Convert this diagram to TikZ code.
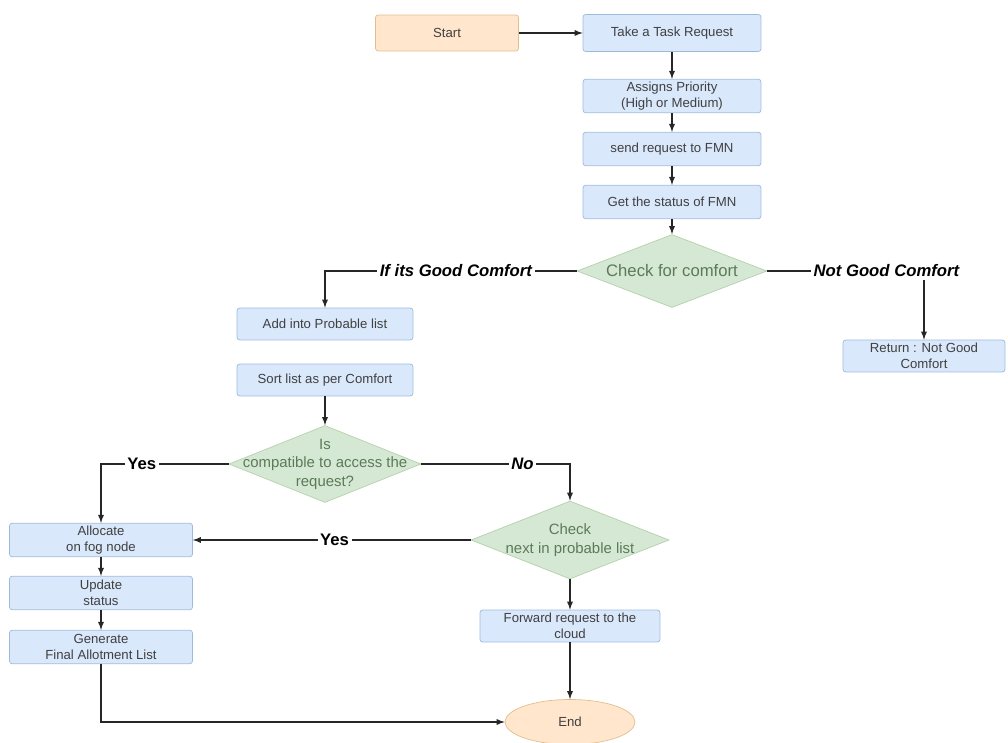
\documentclass[tikz,border=0pt]{standalone}
\usepackage{fontspec}
\setmainfont{Liberation Sans}
\usetikzlibrary{arrows,shapes.geometric,positioning}

\definecolor{boxfill}{HTML}{DAE8FC}
\definecolor{boxline}{HTML}{9FB9DD}
\definecolor{termfill}{HTML}{FFE6CC}
\definecolor{termline}{HTML}{E3BE8C}
\definecolor{decfill}{HTML}{D5E8D4}
\definecolor{decline}{HTML}{B3D1AA}
\definecolor{dectext}{HTML}{5C7A58}

\begin{document}
\begin{tikzpicture}
[x=0.02cm,y=-0.02cm,
%
process/.style={shape=rectangle,rounded corners=1.5pt,draw=boxline,fill=boxfill,
  minimum width=3.56cm,minimum height=0.67cm,inner sep=1pt,align=center,
  text=black!75,font=\fontsize{7.5}{9}\selectfont},
terminal/.style={process,draw=termline,fill=termfill},
decision/.style={shape=diamond,draw=decline,fill=decfill,inner sep=0pt},
dtext/.style={align=center,text=dectext,font=\fontsize{8.5}{10.5}\selectfont},
%
edge/.style={draw,black!85,semithick,>=latex},
elabel/.style={fill=white,inner sep=1.5pt,text=black,font=\fontsize{9.5}{11}\selectfont\bfseries\itshape}]
%
\useasboundingbox (0,0) rectangle (1008,743);
%
%% main column
\node (start) [terminal,minimum width=2.86cm,minimum height=0.72cm] at (447,33) {Start};
\node (task) [process,minimum height=0.74cm] at (672,33) {Take a Task Request};
\node (prio) [process] at (672,96) {Assigns Priority\\(High or Medium)};
\node (send) [process] at (672,149) {send request to FMN};
\node (stat) [process] at (672,202) {Get the status of FMN};
\node (check) [decision,minimum width=3.8cm,minimum height=1.46cm,
  label={[dtext,font=\fontsize{9.5}{11}\selectfont]center:Check for comfort}] at (672,271) {};
%
%% comfort branches
\node (ret) [process,minimum width=3.24cm,minimum height=0.64cm] at (924,356) {Return : Not Good\\Comfort};
\node (add) [process,minimum width=3.52cm,minimum height=0.64cm] at (325,324) {Add into Probable list};
\node (sort) [process,minimum width=3.52cm,minimum height=0.64cm] at (325,380) {Sort list as per Comfort};
\node (comp) [decision,minimum width=3.84cm,minimum height=1.54cm,
  label={[dtext]center:Is\\compatible to access the\\request?}] at (325,464) {};
%
%% allocation column
\node (alloc) [process,minimum width=3.66cm] at (101,540) {Allocate\\on fog node};
\node (upd) [process,minimum width=3.66cm] at (101,593) {Update\\status};
\node (gen) [process,minimum width=3.66cm] at (101,647) {Generate\\Final Allotment List};
%
%% next candidate
\node (next) [decision,minimum width=3.96cm,minimum height=1.56cm,
  label={[dtext]center:Check\\next in probable list}] at (570,540) {};
\node (fwd) [process,minimum width=3.6cm,minimum height=0.64cm] at (570,626) {Forward request to the\\cloud};
\node (end) [terminal,shape=ellipse,minimum width=2.6cm,minimum height=0.9cm] at (570,722) {End};
%
%% edges
\draw[edge,->] (start) -- (task);
\draw[edge,->] (task) -- (prio);
\draw[edge,->] (prio) -- (send);
\draw[edge,->] (send) -- (stat);
\draw[edge,->] (stat) -- (check);
\draw[edge,->] (check.west) -| (add.north) node[elabel,pos=0.24] {If its Good Comfort};
\draw[edge,->] (check.east) -| (ret.north) node[elabel,pos=0.38] {Not Good Comfort};
\draw[edge,->] (sort) -- (comp);
\draw[edge,->] (comp.west) -| (alloc.north) node[elabel,pos=0.34,font=\fontsize{9.5}{11}\selectfont\bfseries] {Yes};
\draw[edge,->] (comp.east) -| (next.north) node[elabel,pos=0.34] {No};
\draw[edge,->] (next.west) -- (alloc.east) node[elabel,pos=0.49,font=\fontsize{9.5}{11}\selectfont\bfseries] {Yes};
\draw[edge,->] (alloc) -- (upd);
\draw[edge,->] (upd) -- (gen);
\draw[edge,->] (next) -- (fwd);
\draw[edge,->] (fwd) -- (end);
\draw[edge,->] (gen.south) |- (end.west);
\end{tikzpicture}
\end{document}
